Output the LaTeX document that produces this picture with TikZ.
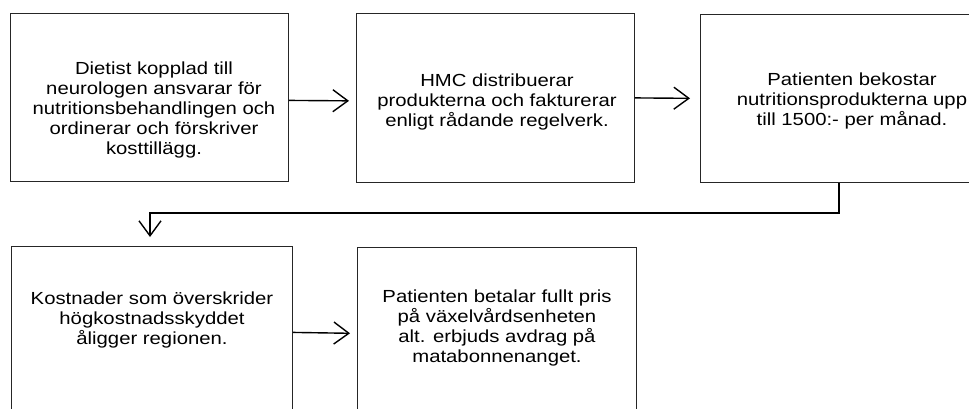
\documentclass[tikz,border=0pt]{standalone}
\usepackage{fontspec}
\setmainfont{Liberation Sans}[FakeStretch=1.16]
\usetikzlibrary{arrows.meta}
\begin{document}
\begin{tikzpicture}[x=1pt,y=-1pt,
  box/.style={draw=black!85, line width=0.8pt, inner sep=0pt, anchor=north west},
  txt/.style={font=\fontsize{17.5}{20}\selectfont, align=center, inner sep=0pt, anchor=north, text=black},
  flow/.style={line width=1.4pt, -{Straight Barb[length=15pt,width=22pt,line width=1.4pt]}}]
\useasboundingbox (0,0) rectangle (969,408);
\clip (0,0) rectangle (969,408);
% boxes
\node[box, minimum width=278pt, minimum height=168pt] (box1) at (10,13) {};
\node[box, minimum width=278pt, minimum height=169pt] (box2) at (356,13) {};
\node[box, minimum width=290pt, minimum height=168pt] (box3) at (700,14) {};
\node[box, minimum width=281pt, minimum height=180pt] (box4) at (11,246) {};
\node[box, minimum width=279pt, minimum height=180pt] (box5) at (357,247) {};
% texts
\node[txt] (t1) at (154,62) {Dietist kopplad till\\neurologen ansvarar för\\nutritionsbehandlingen och\\ordinerar och förskriver\\kosttillägg.};
\node[txt] (t2) at (497,74) {HMC distribuerar\\produkterna och fakturerar\\enligt rådande regelverk.};
\node[txt] (t3) at (852,73) {Patienten bekostar\\nutritionsprodukterna upp\\till 1500:- per månad.};
\node[txt] (t4) at (152,292) {Kostnader som överskrider\\högkostnadsskyddet\\åligger regionen.};
\node[txt] (t5) at (497,290) {Patienten betalar fullt pris\\på växelvårdsenheten\\alt. erbjuds avdrag på\\matabonnenanget.};
% connectors
\coordinate (turn) at (839,213);
\coordinate (drop) at (150,0);
\draw[flow, shorten >=7pt] ([yshift=-3pt]box1.east) -- ([yshift=-3pt]box2.west);
\draw[flow, shorten >=10pt] (box2.east) -- (box3.west);
\draw[flow, shorten >=9pt] (box3.south -| turn) -- (turn) -| (box4.north -| drop);
\draw[flow, shorten >=7pt] ([yshift=4pt]box4.east) -- ([yshift=4pt]box5.west);
\end{tikzpicture}
\end{document}
